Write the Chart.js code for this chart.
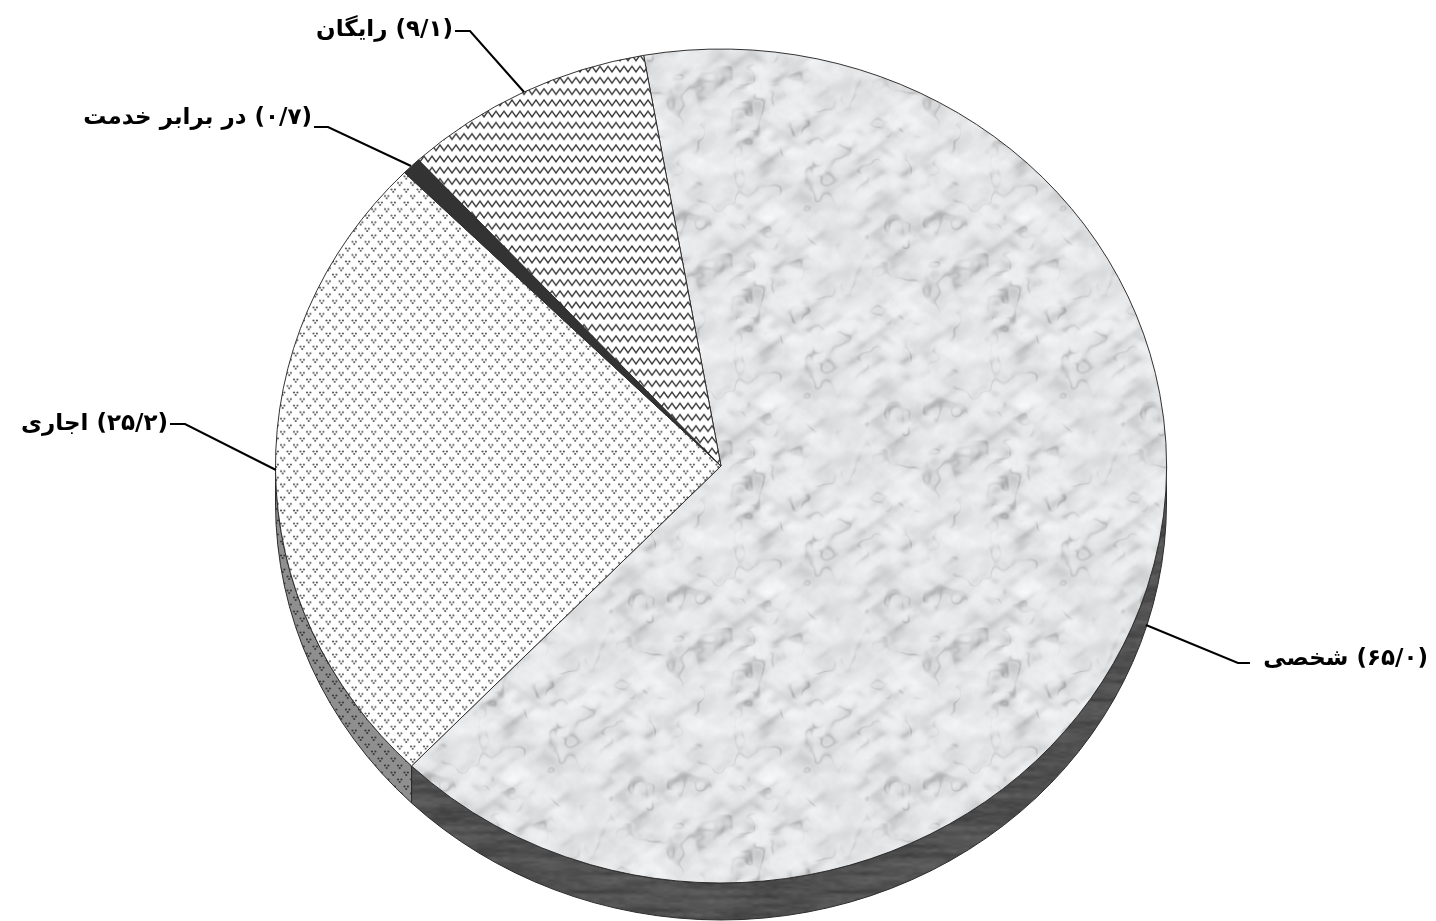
<!DOCTYPE html>
<html lang="fa">
<head>
<meta charset="utf-8">
<title>نمودار</title>
<style>
html, body { margin: 0; padding: 0; background: #fff; overflow: hidden; }
canvas { display: block; }
</style>
<script src="https://cdn.jsdelivr.net/npm/chart.js@4/dist/chart.umd.js"></script>
</head>
<body>
<canvas id="pie" width="1436" height="921"></canvas>
<script>
// DATA
const categories = ['شخصی', 'اجاری', 'در برابر خدمت', 'رایگان'];
const values = [65.0, 25.2, 0.7, 9.1];
const valueLabels = ['۶۵/۰', '۲۵/۲', '۰/۷', '۹/۱'];

// LABEL PLACES (right edge + baseline of the text, then the leader line)
const labelRight = [1428, 168, 312, 453];
const labelBase = [665, 430, 124, 36];
const leaders = [
    [[1250, 663], [1238, 663], [1146, 625]],
    [[170, 424], [185, 424], [276, 470]],
    [[314, 127], [328, 127], [411, 166]],
    [[455, 31], [470, 31], [524, 92]]
];

const squash = 0.936;
const depth = 37;

function makeTile(w, h) {
    const c = document.createElement('canvas');
    c.width = w;
    c.height = h;
    return c;
}

// fixed hash, the texture comes out the same every time
function hash(i, j) {
    const s = Math.sin(i * 127.1 + j * 311.7) * 43758.5453;
    return s - Math.floor(s);
}

function noise(x, y, px, py) {
    const xi = Math.floor(x), yi = Math.floor(y);
    let fx = x - xi, fy = y - yi;
    fx = fx * fx * (3 - 2 * fx);
    fy = fy * fy * (3 - 2 * fy);
    const m = (a, n) => ((a % n) + n) % n;
    const a = hash(m(xi, px), m(yi, py));
    const b = hash(m(xi + 1, px), m(yi, py));
    const c = hash(m(xi, px), m(yi + 1, py));
    const d = hash(m(xi + 1, px), m(yi + 1, py));
    return a + (b - a) * fx + (c - a) * fy + (a - b - c + d) * fx * fy;
}

function marble() {
    const w = 256, h = 200;
    const tile = makeTile(w, h);
    const ctx = tile.getContext('2d');
    const img = ctx.createImageData(w, h);
    for (let y = 0; y < h; y++) {
        for (let x = 0; x < w; x++) {
            const u = x / w, v = y / h;
            // soft streaks low left to high right, over big pale blotches
            const s1 = noise(9 * (u - v), 20 * (u + v), 9, 20);
            const s2 = noise(16 * (u - v), 10 * (u + v), 16, 10);
            const blotch = noise(u * 7, v * 7, 7, 7);
            const mottle = noise(u * 26, v * 20, 26, 20);
            const grain = noise(u * 70, v * 54, 70, 54);
            const n1 = noise(u * 10, v * 8, 10, 8) * 0.6 + mottle * 0.4;
            const crack = Math.max(0, 1 - Math.abs(n1 - 0.5) * 16) * Math.max(0, s1 - 0.35);
            const g = 249 - Math.pow(s1, 3) * 30 - Math.pow(s2, 4) * 20 - blotch * 10 - mottle * 10 - grain * 4 - crack * 62;
            const i = (y * w + x) * 4;
            img.data[i] = g - 1;
            img.data[i + 1] = g;
            img.data[i + 2] = g + 2;
            img.data[i + 3] = 255;
        }
    }
    ctx.putImageData(img, 0, 0);
    return tile;
}

// dark wall of the big slice, mostly level streaks
function wall() {
    const w = 256, h = 64;
    const tile = makeTile(w, h);
    const ctx = tile.getContext('2d');
    const img = ctx.createImageData(w, h);
    for (let y = 0; y < h; y++) {
        for (let x = 0; x < w; x++) {
            const u = x / w, v = y / h;
            const g = 62 + noise(u * 8, v * 14, 8, 14) * 24 + noise(u * 40, v * 28, 40, 28) * 12;
            const i = (y * w + x) * 4;
            img.data[i] = g;
            img.data[i + 1] = g;
            img.data[i + 2] = g;
            img.data[i + 3] = 255;
        }
    }
    ctx.putImageData(img, 0, 0);
    return tile;
}

function zigzag() {
    const tile = makeTile(8, 12);
    const ctx = tile.getContext('2d');
    ctx.fillStyle = '#fff';
    ctx.fillRect(0, 0, 8, 12);
    ctx.strokeStyle = '#3a3a3a';
    ctx.lineWidth = 1.4;
    ctx.beginPath();
    ctx.moveTo(-4, 9);
    ctx.lineTo(0, 3);
    ctx.lineTo(4, 9);
    ctx.lineTo(8, 3);
    ctx.lineTo(12, 9);
    ctx.stroke();
    return tile;
}

function dots(bg, ink) {
    const tile = makeTile(13, 14);
    const ctx = tile.getContext('2d');
    ctx.fillStyle = bg;
    ctx.fillRect(0, 0, 13, 14);
    ctx.fillStyle = ink;
    [[3.2, 3.5], [9.7, 10.5]].forEach(function (p) {
        [[-1.7, -1], [1.7, -1], [0, 1.5]].forEach(function (d) {
            ctx.beginPath();
            ctx.arc(p[0] + d[0], p[1] + d[1], 1.1, 0, Math.PI * 2);
            ctx.fill();
        });
    });
    return tile;
}

const probe = document.getElementById('pie').getContext('2d');
const fills = [
    probe.createPattern(marble(), 'repeat'),
    probe.createPattern(dots('#fff', '#555'), 'repeat'),
    '#333333',
    probe.createPattern(zigzag(), 'repeat')
];
const sideFills = [
    probe.createPattern(wall(), 'repeat'),
    probe.createPattern(dots('#8f8f8f', '#3a3a3a'), 'repeat'),
    '#222222',
    '#222222'
];

// SIDE WALL + flattening of the disc
const tilt = {
    id: 'tilt',
    beforeDatasetDraw: function (chart) {
        const ctx = chart.ctx;
        chart.getDatasetMeta(0).data.forEach(function (arc, i) {
            const p = arc.getProps(['x', 'y', 'startAngle', 'endAngle', 'outerRadius']);
            const a0 = Math.max(p.startAngle, 0);
            const a1 = Math.min(p.endAngle, Math.PI);
            if (a1 <= a0) return;
            const rx = p.outerRadius, ry = rx * squash;
            ctx.save();
            ctx.beginPath();
            ctx.ellipse(p.x, p.y + depth, rx, ry, 0, a0, a1);
            ctx.ellipse(p.x, p.y, rx, ry, 0, a1, a0, true);
            ctx.closePath();
            ctx.fillStyle = sideFills[i];
            ctx.fill();
            ctx.lineWidth = 1;
            ctx.strokeStyle = '#2b2b2b';
            ctx.stroke();
            ctx.restore();
        });
        const c = chart.getDatasetMeta(0).data[0];
        ctx.save();
        ctx.translate(0, c.y);
        ctx.scale(1, squash);
        ctx.translate(0, -c.y);
    },
    afterDatasetDraw: function (chart) {
        chart.ctx.restore();
    }
};

// LABELS
const callouts = {
    id: 'callouts',
    afterDraw: function (chart) {
        const ctx = chart.ctx;
        ctx.save();
        ctx.strokeStyle = '#000';
        ctx.lineWidth = 2;
        leaders.forEach(function (line) {
            ctx.beginPath();
            line.forEach(function (pt, n) {
                if (n === 0) ctx.moveTo(pt[0], pt[1]);
                else ctx.lineTo(pt[0], pt[1]);
            });
            ctx.stroke();
        });
        ctx.fillStyle = '#000';
        ctx.font = 'bold 23px "DejaVu Sans"';
        ctx.direction = 'rtl';
        ctx.textAlign = 'right';
        categories.forEach(function (name, i) {
            ctx.fillText('(' + valueLabels[i] + ') ' + name, labelRight[i], labelBase[i]);
        });
        ctx.restore();
    }
};

new Chart(document.getElementById('pie'), {
    type: 'pie',
    data: {
        labels: categories,
        datasets: [{
            data: values,
            backgroundColor: fills,
            borderColor: '#2b2b2b',
            borderWidth: 1,
            hoverOffset: 0
        }]
    },
    options: {
        responsive: false,
        animation: false,
        rotation: -10,
        events: [],
        layout: { padding: { left: 275, right: 269, top: 20, bottom: 9 } },
        plugins: {
            legend: { display: false },
            tooltip: { enabled: false }
        }
    },
    plugins: [tilt, callouts]
});
</script>
</body>
</html>
